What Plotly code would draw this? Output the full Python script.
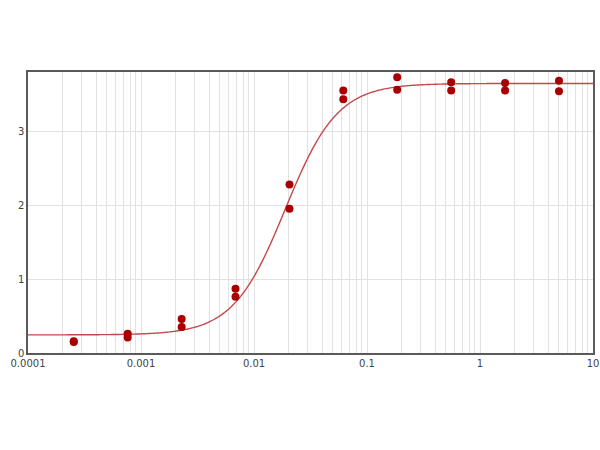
"""
Dose-response curve: duplicate OD readings over a 3-fold dilution series
with a four-parameter logistic fit drawn through them.
"""

import numpy as np
import plotly.graph_objects as go

# Concentrations (3-fold dilutions), two replicate readings each
conc = [0.000254, 0.000762, 0.00229, 0.00686, 0.0206,
        0.0617, 0.185, 0.556, 1.667, 5.0]
rep1 = [0.16, 0.26, 0.46, 0.87, 2.28, 3.55, 3.73, 3.66, 3.65, 3.68]
rep2 = [0.15, 0.21, 0.35, 0.76, 1.95, 3.43, 3.56, 3.55, 3.55, 3.54]

# 4PL fit parameters
fit_bottom = 0.245
fit_top = 3.645
fit_ec50 = 0.0189
fit_hill = 1.88

x_ticks = [0.0001, 0.001, 0.01, 0.1, 1, 10]
x_tick_text = ['0.0001', '0.001', '0.01', '0.1', '1', '10']

curve_x = np.logspace(-4, 1, 400)
curve_y = fit_bottom + (fit_top - fit_bottom) / (1 + (fit_ec50 / curve_x) ** fit_hill)

fig = go.Figure()

fig.add_trace(go.Scatter(
    x=curve_x, y=curve_y,
    mode='lines',
    line=dict(color='#c44a4c', width=1.4, simplify=False),
    hoverinfo='skip',
))

# both replicates as one marker trace
fig.add_trace(go.Scatter(
    x=conc + conc,
    y=rep1 + rep2,
    mode='markers',
    marker=dict(color='#a80000', size=8),
))

grid = '#e2e2e2'

fig.update_xaxes(
    type='log',
    range=[-4, 1],
    tickvals=x_ticks,
    ticktext=x_tick_text,
    showgrid=True,
    gridcolor=grid,
    gridwidth=1,
    minor=dict(showgrid=True, gridcolor=grid, dtick='D1', ticks=''),
    ticks='',
    showline=True,
    linecolor='#5a5a5a',
    linewidth=1.5,
    mirror=True,
    zeroline=False,
    automargin=False,          # template turns this on; it shifts the plot when "10" hits the edge
    ticklabeloverflow='allow', # otherwise the "10" at the right edge gets dropped
)

fig.update_yaxes(
    range=[0, 3.8],
    tickvals=[0, 1, 2, 3],
    showgrid=True,
    gridcolor=grid,
    gridwidth=1,
    ticks='',
    showline=True,
    linecolor='#5a5a5a',
    linewidth=1.5,
    mirror=True,
    zeroline=False,
    automargin=False,
)

fig.update_layout(
    width=600,
    height=450,
    margin=dict(l=28, r=7, t=72, b=97),
    paper_bgcolor='white',
    plot_bgcolor='white',
    showlegend=False,
    font=dict(family='DejaVu Sans', size=10, color='#444444'),
)

# drop the default 8px body margin so the figure sits flush in the window
fig.write_html(
    'out.html',
    config={'displayModeBar': False},
    post_script="document.body.style.margin='0';",
)
